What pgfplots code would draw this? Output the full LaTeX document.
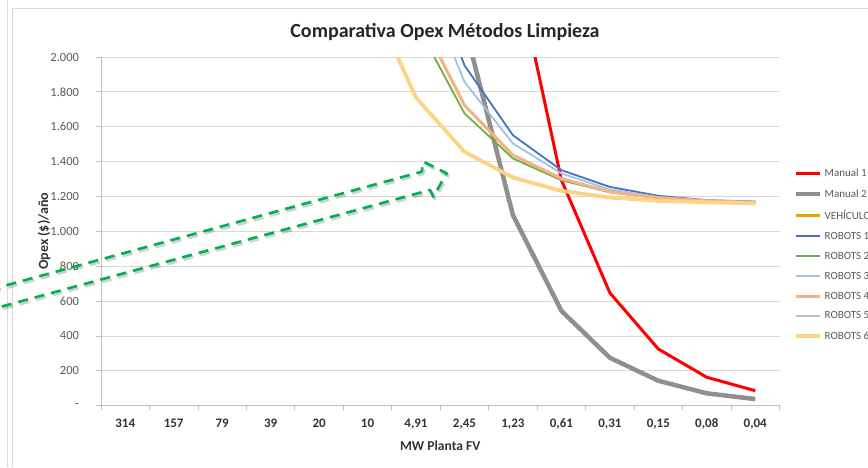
\documentclass[border=0pt]{standalone}
\usepackage{pgfplots}
\pgfplotsset{compat=1.18}
\usepackage{fontspec}
\setmainfont{Carlito}
\definecolor{gridc}{HTML}{D9D9D9}
\definecolor{axc}{HTML}{BFBFBF}
\definecolor{txt}{HTML}{595959}
\definecolor{m1}{HTML}{FF0000}
\definecolor{m2}{HTML}{8F8F8F}
\definecolor{veh}{HTML}{E6A800}
\definecolor{r1}{HTML}{4472C4}
\definecolor{r2}{HTML}{70AD47}
\definecolor{r3}{HTML}{9DC3E6}
\definecolor{r4}{HTML}{F4B183}
\definecolor{r5}{HTML}{BFBFBF}
\definecolor{r6}{HTML}{FFD385}
\definecolor{arr}{HTML}{00B050}
\begin{document}
\begin{tikzpicture}[x=1pt,y=1pt]
\draw[draw=gridc, line width=0.8pt] (7.3,467) -- (7.3,0);
\draw[draw=gridc, line width=0.8pt] (12.3,0) -- (12.3,459) -- (880,459);
\begin{axis}[
  at={(101pt,61.3pt)}, anchor=south west,
  scale only axis, width=678.5pt, height=348.7pt,
  xmin=-0.5, xmax=13.5, ymin=0, ymax=2000,
  axis x line*=bottom, axis y line*=left,
  axis line style={draw=axc, line width=0.8pt},
  tick align=outside, major tick length=4.5pt,
  tick style={draw=axc, line width=0.8pt},
  xtick={-0.5,0.5,...,13.5},
  x tick label as interval,
  xticklabels={314,157,79,39,20,10,{4,91},{2,45},{1,23},{0,61},{0,31},{0,15},{0,08},{0,04}},
  xticklabel style={font=\fontsize{13}{15}\selectfont\bfseries, text=black!80, yshift=-5pt},
  ytick={0,200,...,2000},
  yticklabels={-,200,400,600,800,{1.000},{1.200},{1.400},{1.600},{1.800},{2.000}},
  yticklabel style={font=\fontsize{12.5}{14}\selectfont, text=txt, xshift=-14pt},
  /pgf/number format/assume math mode=true,
  ymajorgrids, major grid style={draw=gridc, line width=0.8pt},
  xlabel={MW Planta FV},
  xlabel style={at={(axis description cs:0.5,-0.1156)}, anchor=center, font=\fontsize{13.6}{15}\selectfont\bfseries, text=black!80},
  ylabel={Opex (\$)/año},
  ylabel style={at={(axis description cs:-0.0840,0.5)}, anchor=center, font=\fontsize{14}{16}\selectfont\bfseries, text=black!80},
  title={Comparativa Opex Métodos Limpieza},
  title style={at={(axis description cs:0.507,1.0546)}, anchor=center, font=\fontsize{20}{24}\selectfont\bfseries, text=black!85},
  legend cell align=left,
  legend image code/.code={\draw[#1] (0pt,0pt) -- (24pt,0pt);},
  legend style={at={(axis description cs:1.0214,0.6845)}, anchor=north west, draw=none, fill=none,
    font=\fontsize{11}{13}\selectfont, text=txt, row sep=7.3pt, inner sep=0pt,
    /tikz/every even column/.append style={column sep=1pt}},
]
\addplot[m1, line width=3pt] coordinates {(8,2590) (9,1294) (10,647) (11,325) (12,163) (13,86)};
\addlegendentry{Manual 1}
\addplot[m2, line width=4.5pt] coordinates {(7,2186) (8,1093) (9,544) (10,275) (11,143) (12,71) (13,38)};
\addlegendentry{Manual 2}
\addplot[veh, line width=2.5pt] coordinates {(5,2380) (6,1767) (7,1456) (8,1309) (9,1232) (10,1194) (11,1175) (12,1167) (13,1160)};
\addlegendentry{VEHÍCULO}
\addplot[r1, line width=1.8pt] coordinates {(6,2700) (7,1952) (8,1551) (9,1351) (10,1255) (11,1204) (12,1179) (13,1171)};
\addlegendentry{ROBOTS 1}
\addplot[r2, line width=1.8pt] coordinates {(6,2194) (7,1677) (8,1418) (9,1293) (10,1224) (11,1190) (12,1172) (13,1165)};
\addlegendentry{ROBOTS 2}
\addplot[r3, line width=1.8pt] coordinates {(6,2540) (7,1857) (8,1504) (9,1332) (10,1240) (11,1197) (12,1176) (13,1168)};
\addlegendentry{ROBOTS 3}
\addplot[r4, line width=3pt] coordinates {(6,2270) (7,1723) (8,1437) (9,1303) (10,1227) (11,1193) (12,1175) (13,1166)};
\addlegendentry{ROBOTS 4}
\addplot[r5, line width=1.8pt] coordinates {(5,2380) (6,1767) (7,1456) (8,1309) (9,1232) (10,1194) (11,1175) (12,1167) (13,1160)};
\addlegendentry{ROBOTS 5}
\addplot[r6, line width=3.8pt] coordinates {(5,2380) (6,1767) (7,1456) (8,1309) (9,1232) (10,1194) (11,1175) (12,1167) (13,1160)};
\addlegendentry{ROBOTS 6}
\end{axis}
% green dashed block arrow annotation (with soft shadow)
\draw[black, opacity=0.18, line width=3.2pt, dash pattern=on 10pt off 7pt, line join=round, shift={(1.5pt,-2pt)}]
  (-10,177.3) -- (421.7,295.3) -- (423.3,305.3) -- (446.7,293.7) -- (433.3,270.3) -- (430,277) -- (-10,157.3);
\draw[arr, line width=2.6pt, dash pattern=on 10pt off 7pt, line join=round]
  (-10,177.3) -- (421.7,295.3) -- (423.3,305.3) -- (446.7,293.7) -- (433.3,270.3) -- (430,277) -- (-10,157.3);
\pgfresetboundingbox
\useasboundingbox (0,0) rectangle (868,467);
\end{tikzpicture}
\end{document}
